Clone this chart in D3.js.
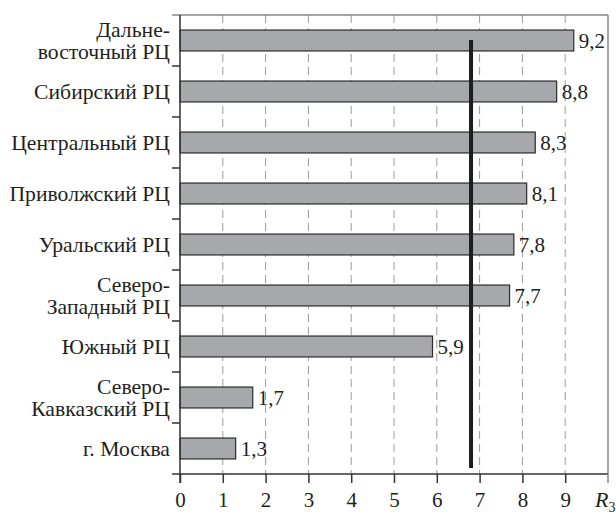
<!DOCTYPE html>
<html>
<head>
<meta charset="utf-8">
<script src="https://cdn.jsdelivr.net/npm/d3@7"></script>
<style>
  body { margin: 0; background: #fff; }
</style>
</head>
<body>
<svg id="chart" width="616" height="514"></svg>
<script>
// Regions (top to bottom), two-line names split by "|"
const regions = [
  "Дальне-|восточный РЦ",
  "Сибирский РЦ",
  "Центральный РЦ",
  "Приволжский РЦ",
  "Уральский РЦ",
  "Северо-|Западный РЦ",
  "Южный РЦ",
  "Северо-|Кавказский РЦ",
  "г. Москва"
];
const values = [9.2, 8.8, 8.3, 8.1, 7.8, 7.7, 5.9, 1.7, 1.3];
const valueLabels = ["9,2", "8,8", "8,3", "8,1", "7,8", "7,7", "5,9", "1,7", "1,3"];
const xTicks = [0, 1, 2, 3, 4, 5, 6, 7, 8, 9];
const threshold = 6.8;

const FONT = "'Liberation Serif'";
const INK = "#231f20";

const svg = d3.select("#chart");
const plotLeft = 180, plotRight = 608, plotTop = 15, plotBottom = 474;

const x = d3.scaleLinear().domain([0, 10]).range([plotLeft, plotRight]);
const y = d3.scaleBand().domain(d3.range(regions.length)).range([plotTop, plotBottom]).paddingInner(0.59).paddingOuter(0.295);
const band = d3.scaleBand().domain(d3.range(regions.length)).range([plotTop, plotBottom]);

// dashed grid
svg.append("g")
  .selectAll("line")
  .data(xTicks.slice(1))
  .join("line")
  .attr("x1", d => x(d)).attr("x2", d => x(d))
  .attr("y1", plotTop).attr("y2", plotBottom)
  .attr("stroke", "#9a9a9a")
  .attr("stroke-width", 1)
  .attr("stroke-dasharray", "8,5");

// frame: top and right borders
svg.append("line").attr("x1", plotLeft - 8).attr("x2", plotRight).attr("y1", plotTop).attr("y2", plotTop)
  .attr("stroke", "#888").attr("stroke-width", 1.5);
svg.append("line").attr("x1", plotRight).attr("x2", plotRight).attr("y1", plotTop).attr("y2", plotBottom)
  .attr("stroke", "#888").attr("stroke-width", 1.5);

// bars
svg.append("g")
  .selectAll("rect")
  .data(values)
  .join("rect")
  .attr("x", x(0))
  .attr("y", (d, i) => y(i))
  .attr("width", d => x(d) - x(0))
  .attr("height", y.bandwidth())
  .attr("fill", "#a7a8ab")
  .attr("stroke", "#2b2b2b")
  .attr("stroke-width", 1.2);

// value labels
svg.append("g")
  .selectAll("text")
  .data(values)
  .join("text")
  .attr("x", d => x(d) + 5)
  .attr("y", (d, i) => y(i) + y.bandwidth() / 2)
  .attr("dy", "0.35em")
  .style("font-family", FONT)
  .attr("font-size", 21)
  .attr("fill", INK)
  .text((d, i) => valueLabels[i]);

// threshold line
svg.append("line")
  .attr("x1", x(threshold)).attr("x2", x(threshold))
  .attr("y1", y(0) + 10).attr("y2", plotBottom - 6)
  .attr("stroke", "#1e1e1e").attr("stroke-width", 4);

// left axis with ticks at band boundaries
const yAxis = svg.append("g");
yAxis.append("line").attr("x1", plotLeft).attr("x2", plotLeft).attr("y1", plotTop).attr("y2", plotBottom + 9)
  .attr("stroke", "#333").attr("stroke-width", 1.5);
yAxis.selectAll("line.tick")
  .data(d3.range(1, regions.length))
  .join("line")
  .attr("class", "tick")
  .attr("x1", plotLeft - 8).attr("x2", plotLeft)
  .attr("y1", d => band(d)).attr("y2", d => band(d))
  .attr("stroke", "#333").attr("stroke-width", 1.5);

// category labels
const cat = svg.append("g")
  .selectAll("text")
  .data(regions)
  .join("text")
  .attr("text-anchor", "end")
  .style("font-family", FONT)
  .attr("font-size", 20)
  .attr("fill", INK);
cat.each(function (d) {
  const lines = d.split("|");
  const t = d3.select(this);
  lines.forEach((ln, k) => {
    t.append("tspan")
      .attr("x", 0)
      .attr("dy", k === 0 ? (lines.length === 1 ? "0.35em" : "-0.2em") : "1.1em")
      .text(ln);
  });
});
// the source face is wider than Times: stretch so "Сибирский РЦ" is ~136px wide
const refWidth = cat.filter((d, i) => i === 1).node().getComputedTextLength();
const stretch = Math.max(0.9, Math.min(1.45, 136 / refWidth));
cat.attr("transform", (d, i) => `translate(170,${y(i) + y.bandwidth() / 2}) scale(${stretch},1)`);

// bottom axis
const xAxis = d3.axisBottom(x).tickValues(xTicks).tickSize(9).tickPadding(9).tickFormat(d3.format("d"));
const gx = svg.append("g").attr("transform", `translate(0,${plotBottom})`).call(xAxis);
gx.select(".domain").attr("stroke", "#333").attr("stroke-width", 1.5)
  .attr("d", `M${plotLeft - 8},0H${plotRight}`);
gx.selectAll(".tick line").attr("stroke", "#333").attr("stroke-width", 1.5);
gx.selectAll(".tick text").attr("font-size", 21).style("font-family", FONT).attr("fill", INK);
svg.append("line").attr("x1", plotRight).attr("x2", plotRight).attr("y1", plotBottom).attr("y2", plotBottom + 9)
  .attr("stroke", "#888").attr("stroke-width", 1.5);

// axis title R3
const rt = svg.append("text").attr("x", 595).attr("y", 507)
  .style("font-family", FONT).attr("font-size", 22).attr("fill", INK);
rt.append("tspan").attr("font-style", "italic").text("R");
rt.append("tspan").attr("font-size", 14).attr("dy", 5).text("3");
</script>
</body>
</html>
